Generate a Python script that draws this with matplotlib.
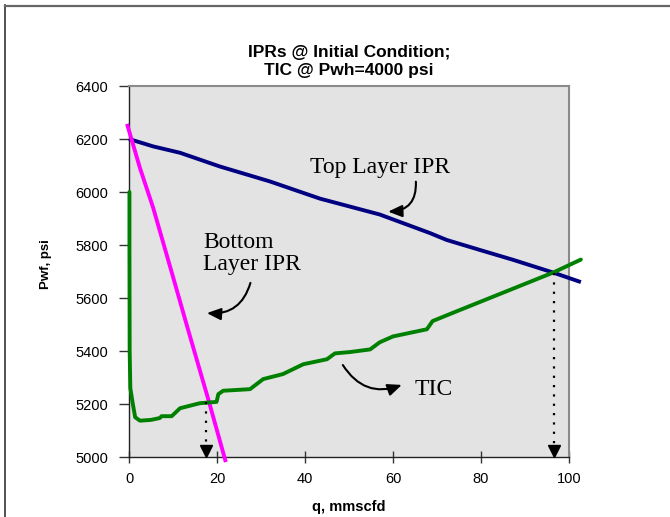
import matplotlib
matplotlib.use("Agg")
import matplotlib.pyplot as plt
from matplotlib.lines import Line2D

# ---- data ----
top_q = [0, 5.5, 11.6, 20.7, 32, 43.4, 57, 68.4, 72.2, 79.8, 87.3, 96.4, 102.7]
top_p = [6200, 6172, 6148, 6096, 6040, 5975, 5915, 5845, 5819, 5781, 5744, 5696, 5660]

bot_q = [-0.45, 2.5, 5.5, 10, 13.4, 18.2, 22]
bot_p = [6257, 6090, 5940, 5680, 5482, 5207, 4981]

tic_q = [0.1, 0.1, 0.15, 0.3, 0.8, 1.4, 2.5, 5, 7, 7.4, 9.7, 11.6, 16.1, 19.9, 20.3,
         21.4, 27.5, 29, 30.5, 35, 39.6, 45, 46.8, 50.2, 54.8, 57, 60, 67.7, 69,
         74.5, 96.4, 102.7]
tic_p = [6000, 5800, 5400, 5260, 5207, 5150, 5137, 5140, 5147, 5154, 5154, 5184,
         5203, 5208, 5237, 5250, 5256, 5275, 5294, 5313, 5350, 5369, 5391, 5396,
         5406, 5433, 5455, 5482, 5513, 5550, 5696, 5745]

op_points_q = [17.5, 96.6]
op_points_p = [5207, 5696]

x_ticks = [0, 20, 40, 60, 80, 100]
y_ticks = [5000, 5200, 5400, 5600, 5800, 6000, 6200, 6400]

title = "IPRs @ Initial Condition;\nTIC @ Pwh=4000 psi"
xlabel = "q, mmscfd"
ylabel = "Pwf, psi"

W, H = 670, 517
fig = plt.figure(figsize=(W / 100, H / 100), dpi=100)
fig.patch.set_facecolor("white")
ax = fig.add_axes([129 / W, 1 - 457 / H, 440 / W, 371 / H])
ax.set_facecolor("#e3e3e3")

sans = ["Liberation Sans", "DejaVu Sans"]
serif = ["Liberation Serif", "DejaVu Serif"]

ax.plot(top_q, top_p, color="#000080", lw=2.8, clip_on=False, zorder=3,
        solid_capstyle="butt", solid_joinstyle="round")
ax.plot(bot_q, bot_p, color="#ff00ff", lw=2.8, clip_on=False, zorder=3,
        solid_capstyle="butt", solid_joinstyle="round")
ax.plot(tic_q, tic_p, color="#008000", lw=2.8, clip_on=False, zorder=3,
        solid_capstyle="round", solid_joinstyle="round")

# dotted drop lines with arrowheads
for q, p in zip(op_points_q, op_points_p):
    ax.plot([q, q], [p, 5040], color="black", lw=1.6, ls=(0, (1, 3.2)), zorder=4)
    ax.plot([q], [5024], marker="v", color="black", markersize=9, zorder=4,
            clip_on=False)

ax.set_xlim(0, 100)
ax.set_ylim(5000, 6400)
ax.set_xticks(x_ticks)
ax.set_yticks(y_ticks)
ax.set_xticklabels([str(v) for v in x_ticks], family=sans, fontsize=10.5)
ax.set_yticklabels([str(v) for v in y_ticks], family=sans, fontsize=10.5)
ax.tick_params(axis="x", direction="inout", length=8, width=1, pad=7, color="#333333")
ax.tick_params(axis="y", direction="out", length=7, width=1, pad=8, color="#333333")

for s in ["left", "bottom"]:
    ax.spines[s].set_color("#222222")
    ax.spines[s].set_linewidth(1.0)
for s in ["top", "right"]:
    ax.spines[s].set_color("#8a8a8a")
    ax.spines[s].set_linewidth(1.5)

ax.set_xlabel(xlabel, family=sans, fontsize=10.5, fontweight="bold")
ax.xaxis.set_label_coords(0.5, -0.115)
ax.set_ylabel(ylabel, family=sans, fontsize=9.5, fontweight="bold")
ax.yaxis.set_label_coords(-0.175, 0.52)

fig.text(349 / W, 1 - 61.5 / H, title, ha="center", va="center", family=sans,
         fontsize=12.5, fontweight="bold", linespacing=1.3)

# annotations
ax.text(41.1, 6091, "Top Layer IPR", family=serif, fontsize=17, ha="left",
        va="center")
ax.text(16.8, 5768, "Bottom\nLayer IPR", family=serif, fontsize=17, ha="left",
        va="center", linespacing=1.12)
ax.text(65.0, 5256, "TIC", family=serif, fontsize=17, ha="left", va="center")

aprops = dict(arrowstyle="-|>,head_length=0.7,head_width=0.3", color="black",
              lw=1.5, shrinkA=0, shrinkB=0, mutation_scale=12)
ax.annotate("", xy=(58.9, 5926), xytext=(65.2, 6039),
            arrowprops=dict(aprops, connectionstyle="arc3,rad=-0.5"))
ax.annotate("", xy=(17.7, 5543), xytext=(27.6, 5657),
            arrowprops=dict(aprops, connectionstyle="arc3,rad=-0.4"))
ax.annotate("", xy=(62.0, 5272), xytext=(48.6, 5347),
            arrowprops=dict(aprops, connectionstyle="arc3,rad=0.4"))

# outer frame (chart area border)
fig.add_artist(Line2D([5 / W, 5 / W], [0, 1 - 5 / H], transform=fig.transFigure,
                      color="#333333", lw=1.2))
fig.add_artist(Line2D([5 / W, 1], [1 - 5.5 / H, 1 - 5.5 / H],
                      transform=fig.transFigure, color="#666666", lw=1.6))

fig.savefig("out.png", dpi=100)
